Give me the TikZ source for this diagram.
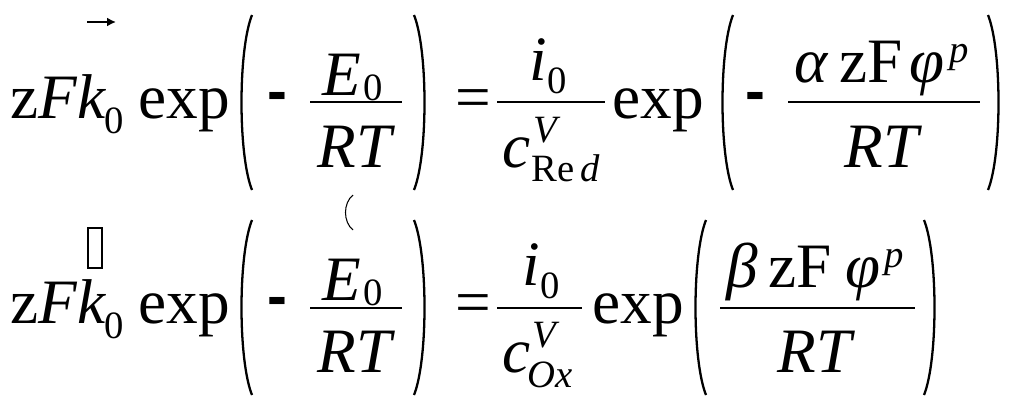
\documentclass[tikz,border=0pt]{standalone}
\usepackage{fontspec}
\setmainfont{Liberation Serif}
\newfontfamily\minusfont{Liberation Sans}
\usetikzlibrary{arrows.meta}

\tikzset{
  big/.style={inner sep=0pt,anchor=base west,font=\fontsize{36}{42}\selectfont},
  small/.style={inner sep=0pt,anchor=base west,font=\fontsize{22}{26}\selectfont},
  neg/.style={inner sep=0pt,font=\minusfont\bfseries\fontsize{34}{40}\selectfont},
  bar/.style={line width=1.4pt},
  paren/.style={line width=1.3pt},
}

\begin{document}
\begin{tikzpicture}[x=0.02cm,y=-0.02cm]
\useasboundingbox (0,0) rectangle (1024,410);
% first line
\node[big] (zfk1) at (10,118) {z\textit{Fk}};
\coordinate (arA) at (87,22);
\coordinate (arB) at (116,22);
\draw[line width=1.1pt,-{Latex[length=5pt,width=5pt]}] (arA) -- (arB);
\node[small] (ka) at (104,133) {0};
\node[big] (expA) at (138,118) {exp};
\draw[paren] (252,15) .. controls (238,50) and (238,155) .. (252,190);
\node[neg] (negA) at (277,102) {-};
\draw[bar] (310,102) -- (402,102);
\node[big] (eA) at (322,95) {\textit{E}};
\node[small] (ea) at (363,100) {0};
\node[big] (rtA) at (317,167) {\textit{RT}};
\draw[paren] (414,15) .. controls (428,50) and (428,155) .. (414,190);
\node[big] (eqA) at (455,118) {=};
\draw[bar] (497,102) -- (605,102);
\node[big] (iA) at (529,80) {\textit{i}};
\node[small] (ia) at (547,93) {0};
\node[big] (cA) at (502,167) {\textit{c}};
\node[small] (vA) at (533,142) {\textit{V}};
\node[small] (redA) at (531,181) {Re\,\textit{d}};
\node[big] (expB) at (612,118) {exp};
\draw[paren] (733,15) .. controls (719,50) and (719,155) .. (733,190);
\node[neg] (negB) at (755,102) {-};
\draw[bar] (788,102) -- (980,102);
\node[big] (numA) at (794,82) {\textit{α}\,zF\hspace{4pt}\textit{φ}};
\node[small] (pA) at (949,62) {\textit{p}};
\node[big] (rtB) at (844,167) {\textit{RT}};
\draw[paren] (988,15) .. controls (1002,50) and (1002,155) .. (988,190);
% second line
\node[big] (zfk2) at (10,323) {z\textit{Fk}};
\node[draw,line width=1pt,minimum width=0.28cm,minimum height=0.8cm,inner sep=0pt] (box) at (95,248) {};
\node[small] (kb) at (104,338) {0};
\node[big] (expC) at (138,323) {exp};
\draw[paren] (252,220) .. controls (238,255) and (238,360) .. (252,395);
\node[neg] (negC) at (277,307) {-};
\draw[line width=0.6pt] (353,195) .. controls (343,203) and (343,222) .. (353,230);
\draw[bar] (310,308) -- (402,308);
\node[big] (eB) at (322,300) {\textit{E}};
\node[small] (eb) at (363,305) {0};
\node[big] (rtC) at (317,372) {\textit{RT}};
\draw[paren] (414,220) .. controls (428,255) and (428,360) .. (414,395);
\node[big] (eqB) at (455,323) {=};
\draw[bar] (497,308) -- (582,308);
\node[big] (iB) at (522,285) {\textit{i}};
\node[small] (ib) at (540,298) {0};
\node[big] (cB) at (502,372) {\textit{c}};
\node[small] (vB) at (532,347) {\textit{V}};
\node[small] (ox) at (527,387) {\textit{Ox}};
\node[big] (expD) at (592,323) {exp};
\draw[paren] (706,220) .. controls (692,255) and (692,360) .. (706,395);
\draw[bar] (720,308) -- (915,308);
\node[big] (numB) at (726,287) {\textit{β}\,zF\hspace{8pt}\textit{φ}};
\node[small] (pB) at (884,267) {\textit{p}};
\node[big] (rtD) at (777,372) {\textit{RT}};
\draw[paren] (924,220) .. controls (938,255) and (938,360) .. (924,395);
\end{tikzpicture}
\end{document}
